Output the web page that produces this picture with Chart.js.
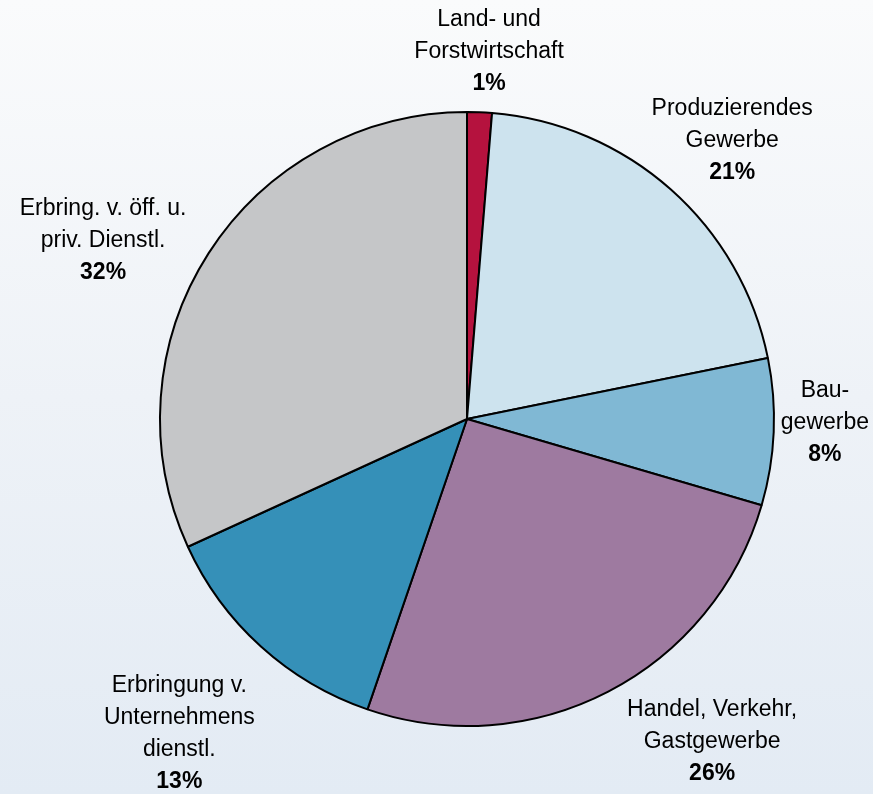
<!DOCTYPE html>
<html>
<head>
<meta charset="utf-8">
<script src="https://cdn.jsdelivr.net/npm/chart.js@4/dist/chart.umd.min.js"></script>
<style>
  html, body { margin: 0; padding: 0; }
  body {
    width: 873px; height: 794px;
    background: linear-gradient(to bottom, #fafbfc 0%, #eef2f7 50%, #e3ebf4 100%);
  }
  #wrap { position: relative; width: 873px; height: 794px; }
</style>
</head>
<body>
<div id="wrap"><canvas id="sectorChart"></canvas></div>
<script>
// Anteile der Wirtschaftsbereiche (%)
const sectors = [
    'Land- und\nForstwirtschaft',
    'Produzierendes\nGewerbe',
    'Bau-\ngewerbe',
    'Handel, Verkehr,\nGastgewerbe',
    'Erbringung v.\nUnternehmens\ndienstl.',
    'Erbring. v. öff. u.\npriv. Dienstl.'
];
const shares = [1.3, 20.5, 7.7, 25.7, 12.9, 31.8];
const sectorColors = ['#b5123e', '#cde3ee', '#80b8d4', '#9e7aa0', '#3590b8', '#c5c6c8'];

// label placement: angle shift from slice middle (deg) and distance (x radius)
const labelShift = [1.1, 2.0, -1.8, -9.8, 0.3, -6.6];
const labelDist = [1.200, 1.252, 1.166, 1.321, 1.388, 1.320];

const sliceLabels = {
    id: 'sliceLabels',
    afterDatasetsDraw(chart) {
        const c = chart.ctx;
        const meta = chart.getDatasetMeta(0);
        const data = chart.data.datasets[0].data;
        const total = data.reduce((a, b) => a + b, 0);
        const lineH = 32;
        c.save();
        c.fillStyle = '#000';
        c.textAlign = 'center';
        c.textBaseline = 'middle';
        meta.data.forEach((arc, i) => {
            const p = arc.getProps(['x', 'y', 'startAngle', 'endAngle', 'outerRadius'], true);
            const mid = (p.startAngle + p.endAngle) / 2 + labelShift[i] * Math.PI / 180;
            const r = p.outerRadius * labelDist[i];
            const cx = p.x + Math.cos(mid) * r;
            const cy = p.y + Math.sin(mid) * r;
            const lines = chart.data.labels[i].split('\n');
            const n = lines.length + 1;
            const top = cy - (n - 1) * lineH / 2;
            c.font = '23px "Liberation Sans", Arial, sans-serif';
            lines.forEach((t, k) => c.fillText(t, cx, top + k * lineH));
            c.font = 'bold 23px "Liberation Sans", Arial, sans-serif';
            c.fillText(Math.round(data[i] / total * 100) + '%', cx, top + lines.length * lineH);
        });
        c.restore();
    }
};

new Chart(document.getElementById('sectorChart'), {
    type: 'pie',
    data: {
        labels: sectors,
        datasets: [{
            data: shares,
            backgroundColor: sectorColors,
            borderColor: '#000',
            borderWidth: 2
        }]
    },
    options: {
        responsive: true,
        maintainAspectRatio: false,
        animation: false,
        layout: { padding: { top: 111, bottom: 67, left: 159, right: 98 } },
        plugins: {
            legend: { display: false },
            tooltip: { enabled: false }
        }
    },
    plugins: [sliceLabels]
});
</script>
</body>
</html>
